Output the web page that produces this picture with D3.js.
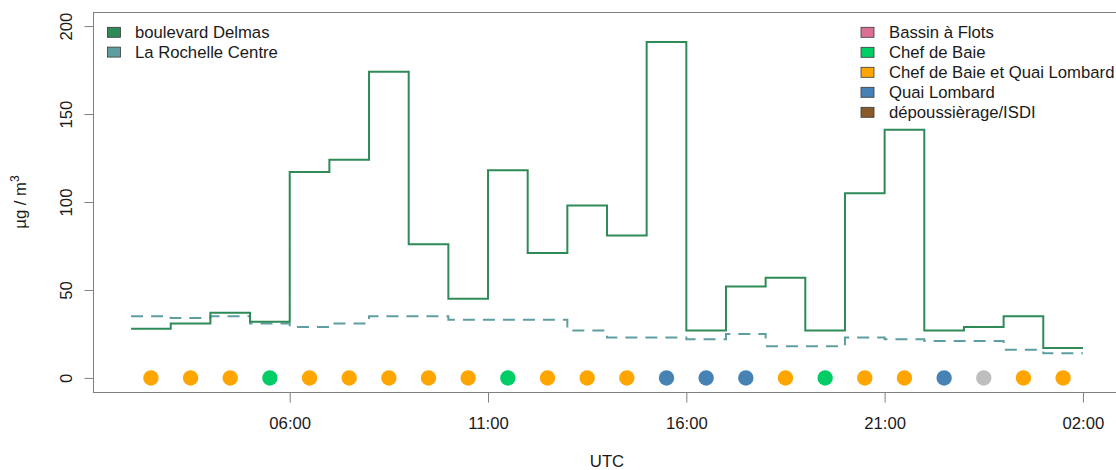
<!DOCTYPE html>
<html>
<head>
<meta charset="utf-8">
<script src="https://cdn.jsdelivr.net/npm/d3@7"></script>
<style>
  html, body { margin: 0; padding: 0; background: #fff; }
  svg { display: block; font-family: "Liberation Sans", Arial, Helvetica, sans-serif; }
</style>
</head>
<body>
<svg id="chart" width="1116" height="470"></svg>
<script>
// Hourly periods, starting at 02:00 UTC and running 24 hours
const hourStarts = ["02:00","03:00","04:00","05:00","06:00","07:00","08:00","09:00",
  "10:00","11:00","12:00","13:00","14:00","15:00","16:00","17:00",
  "18:00","19:00","20:00","21:00","22:00","23:00","00:00","01:00"];

// Hourly concentrations (µg/m³)
const delmas   = [28, 31, 37, 32, 117, 124, 174, 76, 45, 118, 71, 98, 81, 191, 27, 52, 57, 27, 105, 141, 27, 29, 35, 17];
const rochelle = [35, 34, 35, 31, 29, 31, 35, 35, 33, 33, 33, 27, 23, 23, 22, 25, 18, 18, 23, 22, 21, 21, 16, 14];

// Wind-sector source attributed to each hour (null = undetermined)
const hourSource = [
  "Chef de Baie et Quai Lombard","Chef de Baie et Quai Lombard","Chef de Baie et Quai Lombard","Chef de Baie",
  "Chef de Baie et Quai Lombard","Chef de Baie et Quai Lombard","Chef de Baie et Quai Lombard","Chef de Baie et Quai Lombard",
  "Chef de Baie et Quai Lombard","Chef de Baie","Chef de Baie et Quai Lombard","Chef de Baie et Quai Lombard",
  "Chef de Baie et Quai Lombard","Quai Lombard","Quai Lombard","Quai Lombard",
  "Chef de Baie et Quai Lombard","Chef de Baie","Chef de Baie et Quai Lombard","Chef de Baie et Quai Lombard",
  "Quai Lombard", null,"Chef de Baie et Quai Lombard","Chef de Baie et Quai Lombard"];

const stationNames  = ["boulevard Delmas", "La Rochelle Centre"];
const stationColors = ["#2E8B57", "#5F9EA0"];
const sourceNames  = ["Bassin à Flots", "Chef de Baie", "Chef de Baie et Quai Lombard", "Quai Lombard", "dépoussièrage/ISDI"];
const sourceColors = ["#DB7093", "#00CD66", "#FFA500", "#4682B4", "#8B5A2B"];
const unknownColor = "#BEBEBE";

const yTicks = [0, 50, 100, 150, 200];
const xTickLabels = ["06:00", "11:00", "16:00", "21:00", "02:00"];

// Build timestamps from the hour labels (the day rolls over after 23:00)
const day0 = Date.UTC(2000, 0, 1);
const times = [];
{
  let dayOffset = 0, prev = -1;
  hourStarts.forEach(h => {
    const hh = +h.slice(0, 2);
    if (hh < prev) dayOffset += 1;
    prev = hh;
    times.push(new Date(day0 + (dayOffset * 24 + hh) * 3600e3));
  });
}
const tEnd = new Date(+times[times.length - 1] + 3600e3);
const tickTimes = xTickLabels.map(lbl => {
  const hh = +lbl.slice(0, 2);
  return times.find(t => t.getUTCHours() === hh && t > times[0]) || tEnd;
});

const svg = d3.select("#chart");
const plot = { left: 93, right: 1121, top: 12, bottom: 392 };

const span = tEnd - times[0];
const x = d3.scaleUtc()
  .domain([new Date(+times[0] - span * 0.04), new Date(+tEnd + span * 0.04)])
  .range([plot.left, plot.right]);
const y = d3.scaleLinear().domain([-8, 208]).range([plot.bottom, plot.top]);

const axisColor = "#7f7f7f";
const textColor = "#1a1a1a";
const fontSize = 16.7;

// Step series
const stepLine = d3.line()
  .x(d => x(d.t))
  .y(d => y(d.v))
  .curve(d3.curveStepAfter);

function stepPoints(values) {
  const pts = values.map((v, i) => ({ t: times[i], v }));
  pts.push({ t: tEnd, v: values[values.length - 1] });
  return pts;
}

svg.append("path")
  .attr("d", stepLine(stepPoints(rochelle)))
  .attr("fill", "none")
  .attr("stroke", stationColors[1])
  .attr("stroke-width", 2)
  .attr("stroke-dasharray", "12,8");

svg.append("path")
  .attr("d", stepLine(stepPoints(delmas)))
  .attr("fill", "none")
  .attr("stroke", stationColors[0])
  .attr("stroke-width", 2);

// Source markers at mid-hour on the zero line
const sourceColor = d3.scaleOrdinal().domain(sourceNames).range(sourceColors);
svg.append("g").selectAll("circle")
  .data(hourSource)
  .join("circle")
  .attr("cx", (d, i) => x(new Date(+times[i] + 1800e3)))
  .attr("cy", y(0))
  .attr("r", 7.7)
  .attr("fill", d => d == null ? unknownColor : sourceColor(d));

// Plot frame
svg.append("rect")
  .attr("x", plot.left + 0.5).attr("y", plot.top + 0.5)
  .attr("width", plot.right - plot.left).attr("height", plot.bottom - plot.top)
  .attr("fill", "none").attr("stroke", axisColor).attr("stroke-width", 1);

// Y axis
const yAxis = d3.axisLeft(y).tickValues(yTicks).tickSize(9).tickPadding(0).tickFormat(d3.format("d"));
const gy = svg.append("g").attr("transform", `translate(${plot.left + 0.5},0)`).call(yAxis);
gy.select(".domain").remove();
gy.selectAll(".tick line").attr("stroke", axisColor);
gy.selectAll(".tick text")
  .attr("fill", textColor)
  .attr("font-size", fontSize)
  .attr("font-family", "Liberation Sans, Arial, sans-serif")
  .attr("text-anchor", "middle")
  .attr("x", null).attr("dy", null)
  .attr("transform", "translate(-22,0) rotate(-90)");

// X axis
const xAxis = d3.axisBottom(x).tickValues(tickTimes).tickSize(10).tickPadding(0)
  .tickFormat((d, i) => xTickLabels[i]);
const gx = svg.append("g").attr("transform", `translate(0,${plot.bottom + 0.5})`).call(xAxis);
gx.select(".domain").remove();
gx.selectAll(".tick line").attr("stroke", axisColor);
gx.selectAll(".tick text")
  .attr("fill", textColor)
  .attr("font-size", fontSize)
  .attr("font-family", "Liberation Sans, Arial, sans-serif")
  .attr("dy", null)
  .attr("y", 36);

// Axis titles
svg.append("text")
  .attr("x", (plot.left + plot.right) / 2).attr("y", 467)
  .attr("text-anchor", "middle").attr("font-size", fontSize).attr("fill", textColor)
  .text("UTC");

const yTitle = svg.append("text")
  .attr("transform", `translate(25.5,${(plot.top + plot.bottom) / 2}) rotate(-90)`)
  .attr("text-anchor", "middle").attr("font-size", fontSize).attr("fill", textColor);
yTitle.append("tspan").text("µg / m");
yTitle.append("tspan").attr("font-size", fontSize * 0.72).attr("dy", -7).text("3");

// Legends
function legend(names, colors, boxX, textX, firstCenter, step) {
  const g = svg.append("g");
  names.forEach((name, i) => {
    const cy = firstCenter + i * step;
    g.append("rect")
      .attr("x", boxX).attr("y", cy - 5)
      .attr("width", 13).attr("height", 10)
      .attr("fill", colors[i]).attr("stroke", "#3a3a3a").attr("stroke-width", 0.8);
    g.append("text")
      .attr("x", textX).attr("y", cy + 6)
      .attr("font-size", fontSize).attr("fill", textColor)
      .text(name);
  });
}
legend(stationNames, stationColors, 107.5, 135, 32.3, 19.8);
legend(sourceNames, sourceColors, 861, 889, 32.3, 20);
</script>
</body>
</html>
